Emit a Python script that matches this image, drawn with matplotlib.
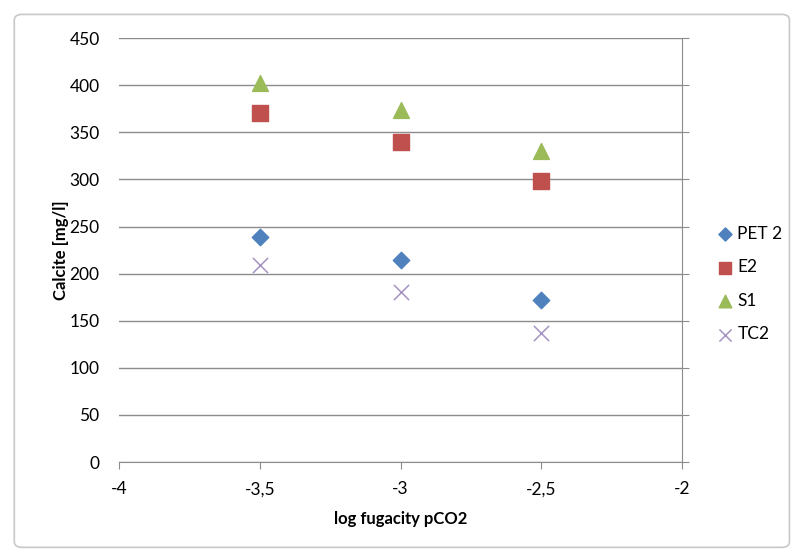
import matplotlib.pyplot as plt
from matplotlib.patches import FancyBboxPatch

plt.rcParams['font.family'] = ['Lato', 'DejaVu Sans']

x = [-3.5, -3.0, -2.5]
pet2 = [239, 215, 172]
e2 = [371, 340, 298]
s1 = [402, 374, 330]
tc2 = [209, 181, 137]

x_ticks = [-4, -3.5, -3, -2.5, -2]
x_ticklabels = ['-4', '-3,5', '-3', '-2,5', '-2']
y_ticks = [0, 50, 100, 150, 200, 250, 300, 350, 400, 450]

fig = plt.figure(figsize=(7.95, 5.54), dpi=100)
ax = fig.add_axes([0.1497, 0.166, 0.7085, 0.765])

# outer chart frame
frame = FancyBboxPatch((0.018, 0.012), 0.975, 0.962, boxstyle='round,pad=0,rounding_size=0.01',
                       transform=fig.transFigure, fill=False, edgecolor='#c8c8c8', lw=1.2)
fig.patches.append(frame)

ax.scatter(x, pet2, marker='D', s=70, color='#4F81BD', label='PET 2', zorder=3)
ax.scatter(x, e2, marker='s', s=120, color='#C0504D', label='E2', zorder=3)
ax.scatter(x, s1, marker='^', s=130, color='#9BBB59', label='S1', zorder=3)
ax.scatter(x, tc2, marker='x', s=120, color='#A593C2', linewidths=1.1, label='TC2', zorder=3)

ax.set_xlim(-4, -2)
ax.set_ylim(0, 450)
ax.set_xticks(x_ticks)
ax.set_xticklabels(x_ticklabels)
ax.set_yticks(y_ticks)
ax.grid(axis='y', color='#8c8c8c', lw=1)
ax.set_axisbelow(True)

for s in ['left', 'top']:
    ax.spines[s].set_visible(False)
ax.spines['right'].set_color('#8c8c8c')
ax.spines['bottom'].set_color('#8c8c8c')
ax.tick_params(axis='y', left=False, right=True, labelleft=True, labelright=False,
               length=5, color='#8c8c8c', labelsize=12.5, pad=9)
ax.tick_params(axis='x', length=5, color='#8c8c8c', labelsize=12.5, pad=9)

ax.set_xlabel('log fugacity pCO2', fontweight='bold', fontsize=12, labelpad=10)
ax.set_ylabel('Calcite [mg/l]', fontweight='bold', fontsize=12)
ax.yaxis.set_label_coords(-0.088, 0.5)

ax.legend(loc='center left', bbox_to_anchor=(1.03, 0.42), frameon=False, fontsize=12.5,
          handletextpad=0.1, labelspacing=1.0, handlelength=1.2, markerscale=0.8)

plt.savefig('out.png', dpi=100)
